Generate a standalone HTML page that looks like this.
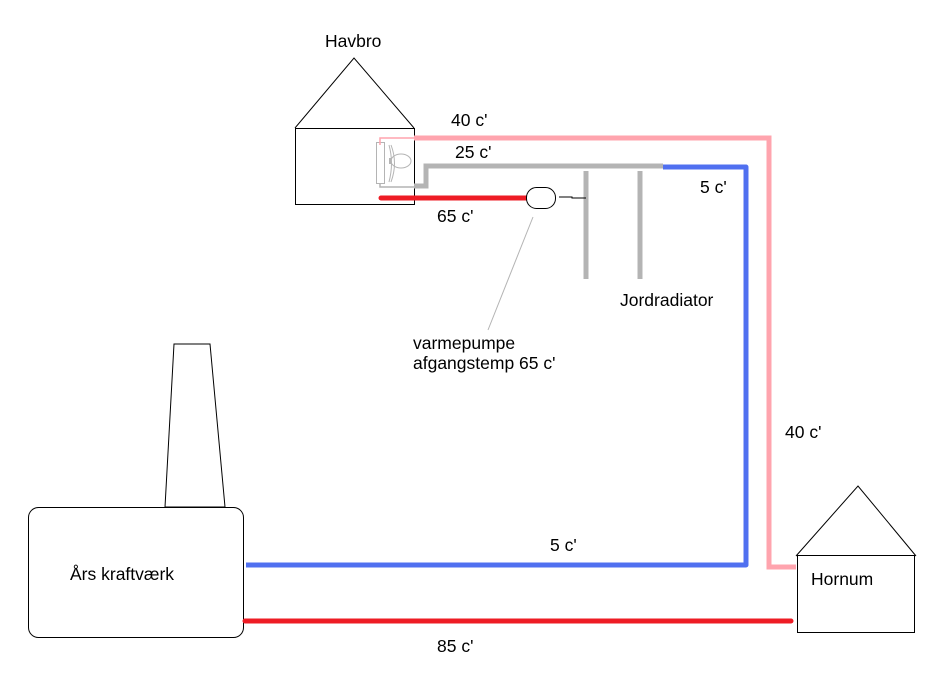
<!DOCTYPE html>
<html><head><meta charset="utf-8"><style>
html,body{margin:0;padding:0;background:#fff;width:937px;height:691px;overflow:hidden}
svg{display:block}
text{font-family:"Liberation Sans",Arial,sans-serif;font-size:17.5px;fill:#000}
</style></head><body>
<svg width="937" height="691" viewBox="0 0 937 691" xmlns="http://www.w3.org/2000/svg">
<polyline points="295,128 354,58 414,128" fill="none" stroke="#000" stroke-width="1"/>
<rect x="295.5" y="128.5" width="119" height="76" fill="none" stroke="#000" stroke-width="1"/>
<text x="325" y="47">Havbro</text>
<rect x="376.5" y="142.5" width="8" height="41" fill="none" stroke="#b4b4b4"/>
<path d="M389,145 Q394,163 389,182 M391,145 Q398,163 391,182" fill="none" stroke="#b4b4b4"/>
<ellipse cx="401" cy="161" rx="10" ry="7" fill="none" stroke="#b4b4b4"/>
<line x1="390" y1="158" x2="390" y2="164" stroke="#b4b4b4" stroke-width="2"/>
<polyline points="380,183 380,187 415,187" fill="none" stroke="#b4b4b4" stroke-width="1.5"/>
<polyline points="380,145 380,138 414,138" fill="none" stroke="#ffa4ae" stroke-width="1.5"/>
<polyline points="414,138 769,138 769,567 796,567" fill="none" stroke="#ffa4ae" stroke-width="5"/>
<text x="451" y="126">40 c'</text>
<text x="785" y="438">40 c'</text>
<polyline points="414,186 426,186 426,166 663,166" fill="none" stroke="#b4b4b4" stroke-width="5"/>
<text x="455" y="158">25 c'</text>
<line x1="586" y1="171" x2="586" y2="279" stroke="#b4b4b4" stroke-width="5"/>
<line x1="640" y1="171" x2="640" y2="279" stroke="#b4b4b4" stroke-width="5"/>
<text x="620" y="306">Jordradiator</text>
<polyline points="663,167 746,167 746,565 246,565" fill="none" stroke="#5070f0" stroke-width="5" stroke-linejoin="round"/>
<text x="700" y="193">5 c'</text>
<text x="550" y="551">5 c'</text>
<line x1="381" y1="198" x2="527" y2="198" stroke="#ee1c25" stroke-width="5" stroke-linecap="round"/>
<text x="437" y="222">65 c'</text>
<rect x="526.5" y="187.5" width="29" height="21" rx="10" fill="#fff" stroke="#000"/>
<polyline points="559,197 572,197 572,198 586,198" fill="none" stroke="#000"/>
<line x1="533" y1="217" x2="488" y2="330" stroke="#b4b4b4"/>
<text x="413" y="349">varmepumpe</text>
<text x="413" y="369">afgangstemp 65 c'</text>
<polygon points="174,344 210,344 225,507 165,507" fill="none" stroke="#000"/>
<rect x="28.5" y="507.5" width="215" height="130" rx="10" fill="#fff" stroke="#000"/>
<text x="70" y="580">Års kraftværk</text>
<line x1="245" y1="621" x2="791" y2="621" stroke="#ee1c25" stroke-width="5" stroke-linecap="round"/>
<text x="437" y="652">85 c'</text>
<polyline points="796,556 858,486 916,556" fill="none" stroke="#000"/>
<rect x="797.5" y="555.5" width="117" height="77" fill="none" stroke="#000"/>
<text x="811" y="585">Hornum</text>
</svg>
</body></html>
